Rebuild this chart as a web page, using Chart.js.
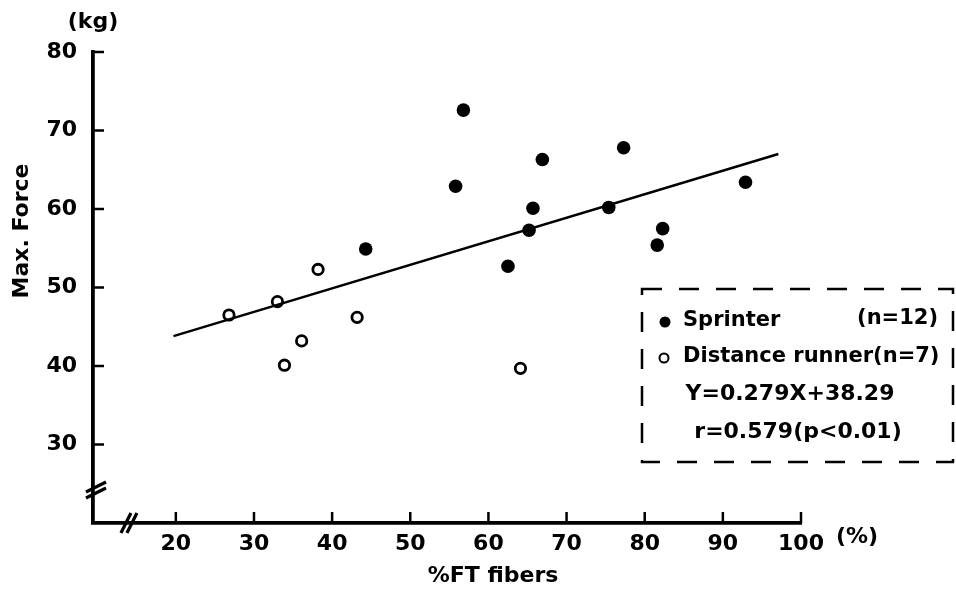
<!DOCTYPE html>
<html>
<head>
<meta charset="utf-8">
<script src="https://cdn.jsdelivr.net/npm/chart.js@4/dist/chart.umd.min.js"></script>
<style>
  html, body { margin: 0; padding: 0; background: #fff; }
  #wrap { width: 956px; height: 592px; }
</style>
</head>
<body>
<div id="wrap"><canvas id="c" width="956" height="592"></canvas></div>
<script>
// ---- data ----
const sprinterX = [56.8, 55.8, 66.9, 77.3, 65.7, 65.2, 62.5, 44.3, 92.9, 82.3, 81.6, 75.4];
const sprinterY = [72.6, 62.9, 66.3, 67.8, 60.1, 57.3, 52.7, 54.9, 63.4, 57.5, 55.4, 60.2];
const distanceX = [26.8, 33.0, 38.2, 33.9, 36.1, 43.2, 64.1];
const distanceY = [46.5, 48.2, 52.3, 40.1, 43.2, 46.2, 39.7];
const fitX = [19.7, 97.1];
const fitY = [43.8, 67.0];
const xTickValues = [20, 30, 40, 50, 60, 70, 80, 90, 100];
const yTickValues = [30, 40, 50, 60, 70, 80];
const seriesNames = ['Sprinter', 'Distance runner'];
const seriesCounts = ['(n=12)', '(n=7)'];
const equationText = 'Y=0.279X+38.29';
const corrText = 'r=0.579(p<0.01)';
const xTitle = '%FT fibers';
const yTitle = 'Max. Force';
const xUnit = '(%)';
const yUnit = '(kg)';

const FONT = 'DejaVu Sans';
const toPts = (xs, ys) => xs.map((x, i) => ({ x: x, y: ys[i] }));

const decor = {
  id: 'decor',
  afterDraw(chart) {
    const ctx = chart.ctx;
    const xs = chart.scales.x, ys = chart.scales.y;
    const L = xs.left, B = ys.bottom;
    ctx.save();
    ctx.strokeStyle = '#000';
    ctx.fillStyle = '#000';
    ctx.lineCap = 'butt';
    // inward tick marks
    ctx.lineWidth = 2.5;
    xTickValues.forEach(v => {
      const px = xs.getPixelForValue(v);
      ctx.beginPath(); ctx.moveTo(px, B); ctx.lineTo(px, B - 11); ctx.stroke();
    });
    yTickValues.forEach(v => {
      const py = ys.getPixelForValue(v);
      ctx.beginPath(); ctx.moveTo(L, py); ctx.lineTo(L + 11, py); ctx.stroke();
    });
    // axis break marks
    ctx.lineWidth = 3.2;
    const yb = ys.getPixelForValue(24.2);
    [-3, 3].forEach(d => {
      ctx.beginPath(); ctx.moveTo(L - 7, yb + 5 + d); ctx.lineTo(L + 13, yb - 5 + d); ctx.stroke();
    });
    const xb = xs.getPixelForValue(14.0);
    [-3, 3].forEach(d => {
      ctx.beginPath(); ctx.moveTo(xb - 5 + d, B + 10); ctx.lineTo(xb + 5 + d, B - 10); ctx.stroke();
    });
    // unit labels and titles
    ctx.font = 'bold 22px ' + FONT;
    ctx.textBaseline = 'middle';
    ctx.textAlign = 'center';
    ctx.fillText(yUnit, 93, 22);
    ctx.textAlign = 'left';
    ctx.fillText(xUnit, 836, 537);
    ctx.textAlign = 'center';
    ctx.fillText(xTitle, 493, 576);
    ctx.save();
    ctx.translate(22, 231);
    ctx.rotate(-Math.PI / 2);
    ctx.fillText(yTitle, 0, 0);
    ctx.restore();
    // legend box
    ctx.lineWidth = 2.5;
    ctx.setLineDash([20, 17]);
    ctx.strokeRect(642, 289, 311, 173);
    ctx.setLineDash([]);
    ctx.font = 'bold 21px ' + FONT;
    ctx.textAlign = 'left';
    ctx.beginPath(); ctx.arc(665, 322, 5.5, 0, Math.PI * 2); ctx.fill();
    ctx.fillText(seriesNames[0], 683, 321);
    ctx.textAlign = 'right';
    ctx.fillText(seriesCounts[0], 938, 319);
    ctx.lineWidth = 2;
    ctx.beginPath(); ctx.arc(664, 358, 4.5, 0, Math.PI * 2); ctx.stroke();
    ctx.textAlign = 'left';
    ctx.fillText(seriesNames[1] + seriesCounts[1], 683, 357);
    ctx.font = 'bold 22px ' + FONT;
    ctx.textAlign = 'center';
    ctx.fillText(equationText, 790, 394);
    ctx.fillText(corrText, 798, 432);
    ctx.restore();
  }
};

new Chart(document.getElementById('c'), {
  type: 'scatter',
  data: {
    datasets: [
      {
        type: 'line',
        label: 'fit',
        data: toPts(fitX, fitY),
        borderColor: '#000',
        borderWidth: 2.5,
        pointRadius: 0,
        fill: false,
        tension: 0
      },
      {
        label: seriesNames[0],
        data: toPts(sprinterX, sprinterY),
        backgroundColor: '#000',
        borderColor: '#000',
        borderWidth: 0,
        pointRadius: 6.8
      },
      {
        label: seriesNames[1],
        data: toPts(distanceX, distanceY),
        backgroundColor: '#fff',
        borderColor: '#000',
        borderWidth: 2.8,
        pointRadius: 5.2
      }
    ]
  },
  options: {
    responsive: false,
    animation: false,
    devicePixelRatio: 1,
    layout: { padding: { top: 52, right: 155, left: 0, bottom: 0 } },
    plugins: { legend: { display: false }, tooltip: { enabled: false }, title: { display: false } },
    scales: {
      x: {
        type: 'linear',
        min: 9.4, max: 100,
        afterBuildTicks: s => { s.ticks = xTickValues.map(v => ({ value: v })); },
        afterFit: s => { s.height = 69; },
        grid: { display: true, drawOnChartArea: false, drawTicks: false },
        border: { display: true, color: '#000', width: 3.8 },
        ticks: { color: '#000', padding: 8, maxRotation: 0, autoSkip: false,
                 font: { family: FONT, size: 22, weight: 'bold' } }
      },
      y: {
        type: 'linear',
        min: 20, max: 80,
        afterBuildTicks: s => { s.ticks = yTickValues.map(v => ({ value: v })); },
        afterFit: s => { s.width = 93; },
        grid: { display: true, drawOnChartArea: false, drawTicks: false },
        border: { display: true, color: '#000', width: 3.8 },
        ticks: { color: '#000', padding: 16, autoSkip: false,
                 font: { family: FONT, size: 22, weight: 'bold' } }
      }
    }
  },
  plugins: [decor]
});
</script>
</body>
</html>
